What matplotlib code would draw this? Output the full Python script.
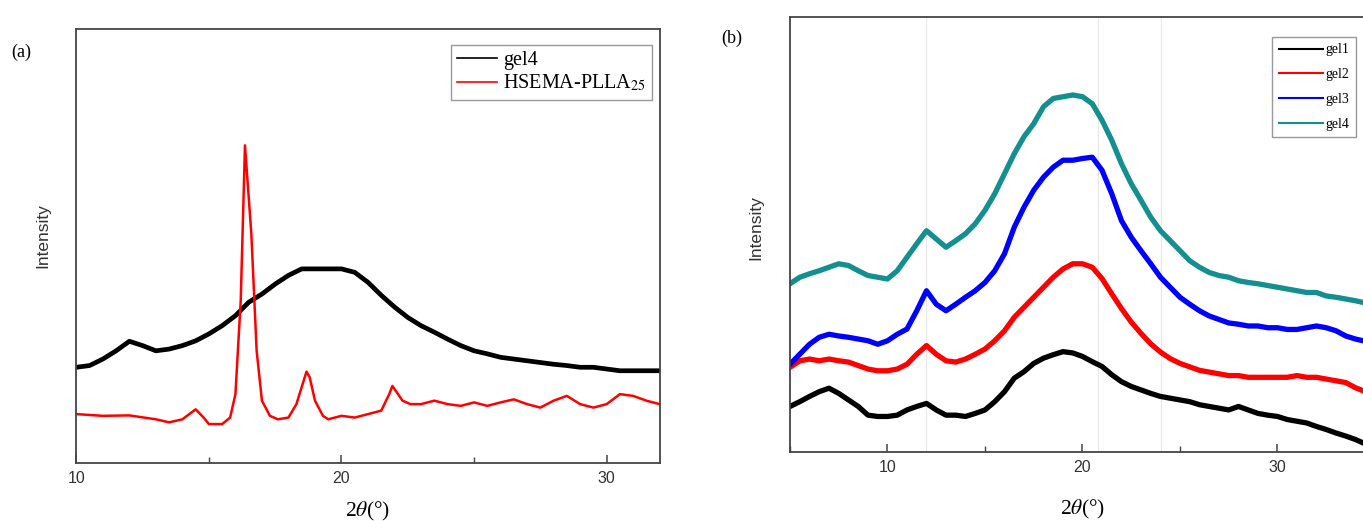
#!/usr/bin/env python3
"""XRD patterns: (a) gel4 vs HSEMA-PLLA25, (b) gel1-gel4."""
import matplotlib
matplotlib.use("Agg")
import matplotlib.pyplot as plt
from matplotlib.ticker import MultipleLocator, NullLocator

plt.rcParams["mathtext.fontset"] = "stix"

# ---- panel (a): intensity in % of axis height ----
A_X_GEL4 = [10, 10.5, 11, 11.5, 12, 12.5, 13, 13.5, 14, 14.5, 15, 15.5, 16, 16.5,
            17, 17.5, 18, 18.5, 19, 19.5, 20, 20.5, 21, 21.5, 22, 22.5, 23, 23.5,
            24, 24.5, 25, 25.5, 26, 26.5, 27, 27.5, 28, 28.5, 29, 29.5, 30, 30.5,
            31, 31.5, 32]
A_GEL4 = [22.0, 22.4, 23.9, 25.8, 28.0, 27.0, 25.8, 26.2, 27.0, 28.1, 29.7, 31.6,
          33.9, 37.0, 38.9, 41.2, 43.2, 44.7, 44.7, 44.7, 44.7, 43.9, 41.6, 38.6,
          35.9, 33.5, 31.6, 30.1, 28.5, 27.0, 25.8, 25.1, 24.3, 23.9, 23.5, 23.1,
          22.7, 22.4, 22.0, 22.0, 21.6, 21.2, 21.2, 21.2, 21.2]

A_X_PLLA = [10, 11, 12, 13, 13.5, 14, 14.5, 14.8, 15, 15.5, 15.8, 16, 16.2, 16.36,
            16.6, 16.8, 17, 17.3, 17.6, 18, 18.3, 18.68, 18.8, 19, 19.3, 19.5, 20,
            20.5, 21, 21.5, 21.8, 21.92, 22.3, 22.6, 23, 23.5, 24, 24.5, 25, 25.5,
            26, 26.5, 27, 27.5, 28, 28.5, 29, 29.5, 30, 30.5, 31, 31.5, 32]
A_PLLA = [11.2, 10.8, 10.9, 10.0, 9.3, 10.0, 12.3, 10.4, 8.9, 8.9, 10.4, 15.8, 37.4,
          73.2, 52.8, 25.8, 14.3, 10.8, 10.0, 10.4, 13.5, 21.0, 19.7, 14.3, 10.8,
          10.0, 10.8, 10.4, 11.2, 12.0, 15.8, 17.7, 14.3, 13.5, 13.5, 14.3, 13.5,
          13.1, 13.9, 13.1, 13.9, 14.6, 13.5, 12.7, 14.3, 15.4, 13.5, 12.7, 13.5,
          15.8, 15.4, 14.3, 13.5]

# ---- panel (b): intensity in % of axis height ----
B_X = [5, 5.5, 6, 6.5, 7, 7.5, 8, 8.5, 9, 9.5, 10, 10.5, 11, 11.5, 12, 12.5, 13,
       13.5, 14, 14.5, 15, 15.5, 16, 16.5, 17, 17.5, 18, 18.5, 19, 19.5, 20, 20.5,
       21, 21.5, 22, 22.5, 23, 23.5, 24, 24.5, 25, 25.5, 26, 26.5, 27, 27.5, 28,
       28.5, 29, 29.5, 30, 30.5, 31, 31.5, 32, 32.5, 33, 33.5, 34, 34.4]
B_GEL1 = [10.4, 11.5, 12.7, 13.8, 14.6, 13.4, 11.9, 10.4, 8.4, 8.1, 8.1, 8.4, 9.6,
          10.4, 11.1, 9.6, 8.4, 8.4, 8.1, 8.8, 9.6, 11.5, 13.8, 16.9, 18.4, 20.3,
          21.5, 22.3, 23.0, 22.7, 21.9, 20.7, 19.6, 17.7, 16.1, 15.0, 14.2, 13.4,
          12.7, 12.3, 11.9, 11.5, 10.8, 10.4, 10.0, 9.6, 10.4, 9.6, 8.8, 8.4, 8.1,
          7.4, 7.0, 6.6, 5.8, 5.1, 4.3, 3.6, 2.8, 2.0]
B_GEL2 = [19.4, 20.9, 21.3, 20.9, 21.3, 20.9, 20.6, 19.8, 19.0, 18.6, 18.6, 19.0,
          20.1, 22.4, 24.4, 22.4, 20.9, 20.6, 21.3, 22.4, 23.6, 25.5, 27.8, 30.9,
          33.2, 35.5, 37.8, 40.1, 42.0, 43.2, 43.2, 42.4, 39.8, 36.3, 32.9, 29.8,
          27.2, 24.8, 22.9, 21.4, 20.3, 19.5, 18.7, 18.3, 17.9, 17.5, 17.5, 17.1,
          17.1, 17.1, 17.1, 17.1, 17.5, 17.1, 17.1, 16.7, 16.3, 15.9, 14.7, 14.0]
B_GEL3 = [20.1, 22.4, 24.7, 26.3, 27.0, 26.6, 26.3, 25.9, 25.5, 24.7, 25.5, 27.0,
          28.2, 32.4, 37.0, 33.9, 32.4, 33.9, 35.5, 37.0, 38.9, 41.6, 45.5, 51.6,
          56.2, 60.1, 63.1, 65.4, 67.0, 67.0, 67.4, 67.7, 64.7, 59.3, 53.1, 49.3,
          46.2, 43.2, 40.1, 37.8, 35.5, 33.9, 32.4, 31.2, 30.4, 29.6, 29.3, 28.9,
          28.9, 28.5, 28.5, 28.1, 28.1, 28.5, 28.9, 28.5, 27.8, 26.6, 25.9, 25.5]
B_GEL4 = [38.6, 40.1, 40.9, 41.6, 42.4, 43.2, 42.8, 41.6, 40.5, 40.1, 39.7, 41.6,
          44.7, 47.8, 50.8, 48.9, 47.0, 48.5, 50.1, 52.4, 55.5, 59.3, 63.9, 68.5,
          72.4, 75.4, 79.3, 81.2, 81.6, 82.0, 81.6, 80.0, 76.2, 71.6, 66.2, 61.6,
          57.8, 53.9, 50.8, 48.5, 46.2, 43.9, 42.4, 41.2, 40.5, 40.1, 39.3, 38.9,
          38.6, 38.2, 37.8, 37.4, 37.0, 36.6, 36.6, 35.8, 35.5, 35.1, 34.7, 34.3]
B_GUIDES = [12.0, 20.8, 24.05]

TEAL = "#138f8f"
SERIF = ["Liberation Serif", "DejaVu Serif"]
SANS = ["Liberation Sans", "DejaVu Sans"]


def style_axes(ax, xlim, xlab_y, ylab_xy):
    ax.set_xlim(*xlim)
    ax.set_ylim(0, 100)
    ax.yaxis.set_major_locator(NullLocator())
    ax.xaxis.set_major_locator(MultipleLocator(10))
    ax.xaxis.set_minor_locator(MultipleLocator(5))
    ax.tick_params(axis="x", which="both", direction="in", top=False,
                   labelsize=11.5, labelcolor="#333333", color="#444444", pad=6)
    ax.tick_params(axis="x", which="major", length=6, width=1.1)
    ax.tick_params(axis="x", which="minor", length=4, width=1.0)
    for lab in ax.get_xticklabels():
        lab.set_family(SANS)
    for sp in ax.spines.values():
        sp.set_color("#444444")
        sp.set_linewidth(1.3)
    ax.set_xlabel(r"2$\theta$(°)", family=SERIF, fontsize=15.5)
    ax.xaxis.set_label_coords(0.5, xlab_y)
    ax.set_ylabel("Intensity", family=SANS, fontsize=12.5, color="#333333")
    ax.yaxis.set_label_coords(*ylab_xy)


def thin_handles(leg, lw):
    for ln in leg.get_lines():
        ln.set_linewidth(lw)


fig = plt.figure(figsize=(13.63, 5.21), dpi=100)

ax_a = fig.add_axes([0.056, 0.112, 0.428, 0.832])
ax_a.plot(A_X_GEL4, A_GEL4, color="black", lw=3.4, label="gel4")
ax_a.plot(A_X_PLLA, A_PLLA, color="red", lw=1.8, label="HSEMA-PLLA$_{25}$")
style_axes(ax_a, (10, 32), -0.086, (-0.045, 0.523))
leg_a = ax_a.legend(loc="upper right", bbox_to_anchor=(0.987, 0.964), borderaxespad=0,
                    prop={"family": SERIF, "size": 14.5}, fancybox=False,
                    edgecolor="#999999", handlelength=2.0, handletextpad=0.3,
                    borderpad=0.3, labelspacing=0.15, framealpha=1)
thin_handles(leg_a, 1.2)
fig.text(0.008, 0.89, "(a)", family=SERIF, fontsize=13)

ax_b = fig.add_axes([0.5796, 0.133, 0.4292, 0.835])
for gx in B_GUIDES:
    ax_b.axvline(gx, color="#e8e8e8", lw=0.9, zorder=0)
ax_b.plot(B_X, B_GEL1, color="black", lw=3.8, label="gel1")
ax_b.plot(B_X, B_GEL2, color="red", lw=3.8, label="gel2")
ax_b.plot(B_X, B_GEL3, color="blue", lw=3.8, label="gel3")
ax_b.plot(B_X, B_GEL4, color=TEAL, lw=3.8, label="gel4")
style_axes(ax_b, (5, 35), -0.107, (-0.046, 0.516))
leg_b = ax_b.legend(loc="upper right", bbox_to_anchor=(0.9675, 0.953), borderaxespad=0,
                    prop={"family": SERIF, "size": 10}, fancybox=False,
                    edgecolor="#999999", handlelength=3.2, handletextpad=0.2,
                    borderpad=0.45, labelspacing=0.85, framealpha=1)
thin_handles(leg_b, 1.5)
fig.text(0.529, 0.918, "(b)", family=SERIF, fontsize=13)

fig.savefig("out.png", dpi=100)
